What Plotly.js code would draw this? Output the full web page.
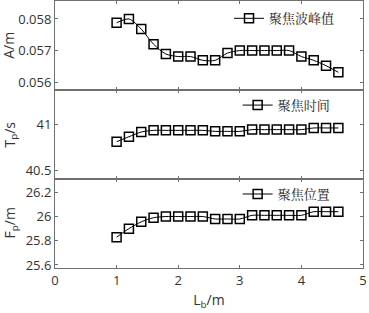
<!DOCTYPE html>
<html>
<head>
<meta charset="utf-8">
<script src="https://cdn.plot.ly/plotly-3.0.1.min.js"></script>
<style>html,body{margin:0;padding:0;background:#fff;}#chart{width:369px;height:313px;}</style>
</head>
<body>
<div id="chart"></div>
<script>
const lb = [1.0, 1.2, 1.4, 1.6, 1.8, 2.0, 2.2, 2.4, 2.6, 2.8, 3.0, 3.2, 3.4, 3.6, 3.8, 4.0, 4.2, 4.4, 4.6];
const peakA = [0.05788, 0.0580, 0.05768, 0.0572, 0.05689, 0.05681, 0.05681, 0.05669, 0.05669, 0.05692, 0.0570, 0.0570, 0.0570, 0.0570, 0.0570, 0.05681, 0.05669, 0.05652, 0.05631];
const timeTp = [40.81, 40.865, 40.916, 40.934, 40.934, 40.934, 40.934, 40.934, 40.923, 40.923, 40.923, 40.942, 40.942, 40.942, 40.942, 40.942, 40.96, 40.96, 40.96];
const posFp = [25.83, 25.90, 25.956, 25.99, 26.0, 26.0, 26.0, 26.0, 25.98, 25.98, 25.98, 26.01, 26.01, 26.01, 26.01, 26.01, 26.04, 26.04, 26.04];
const names = ['聚焦波峰值', '聚焦时间', '聚焦位置'];
const yTitles = ['A/m', 'T<sub>p</sub>/s', 'F<sub>p</sub>/m'];
const xTitle = 'L<sub>b</sub>/m';
const xTicks = [0, 1, 2, 3, 4, 5];
const aTicks = [0.056, 0.057, 0.058];
const tTicks = [40.5, 41];
const fTicks = [25.6, 25.8, 26, 26.2];

const axColor = '#707070';
const tickFont = {family: 'Open Sans, sans-serif', size: 13, color: '#333'};
const titleFont = {family: 'Open Sans, sans-serif', size: 14, color: '#333'};
function mk(y, name, xa, ya, lg) {
  return {
    x: lb, y: y, name: name, xaxis: xa, yaxis: ya, legend: lg,
    type: 'scatter', mode: 'lines+markers',
    line: {color: '#000', width: 1, shape: 'spline', smoothing: 0.8},
    marker: {symbol: 'square-open', size: 9, color: '#000', line: {width: 1.5, color: '#000'}},
    showlegend: true
  };
}
const data = [
  mk(peakA, names[0], 'x', 'y', 'legend'),
  mk(timeTp, names[1], 'x2', 'y2', 'legend2'),
  mk(posFp, names[2], 'x3', 'y3', 'legend3')
];
function xax(anchor, labels) {
  return {
    domain: [0, 1], anchor: anchor, range: [0, 5], tickvals: xTicks,
    showticklabels: labels, ticks: 'inside', ticklen: 3, tickcolor: axColor,
    showline: true, linecolor: axColor, linewidth: 1, mirror: 'ticks',
    showgrid: false, zeroline: false, tickfont: tickFont
  };
}
function yax(anchor, dom, rng, tv) {
  return {
    domain: dom, anchor: anchor, range: rng, tickvals: tv,
    ticks: 'inside', ticklen: 3, tickcolor: axColor,
    showline: true, linecolor: axColor, linewidth: 1, mirror: 'ticks',
    showgrid: false, zeroline: false, tickfont: tickFont
  };
}
function ytitle(text, x, y) {
  return {text: text, xref: 'paper', yref: 'paper', x: x, y: y, xanchor: 'center', yanchor: 'middle',
          textangle: -90, showarrow: false, font: titleFont};
}
const lgFont = {family: 'Noto Serif CJK SC, Noto Sans CJK SC, serif', size: 13, color: '#222'};
const layout = {
  width: 369, height: 313,
  margin: {l: 55, r: 6, t: 1, b: 45},
  paper_bgcolor: '#fff', plot_bgcolor: '#fff',
  showlegend: true,
  xaxis: xax('y', false),
  xaxis2: xax('y2', false),
  xaxis3: Object.assign(xax('y3', true), {title: {text: xTitle, font: titleFont, standoff: 7}}),
  yaxis: yax('x', [0.6667, 1], [0.05575, 0.05857], aTicks),
  yaxis2: yax('x2', [0.3333, 0.6667], [40.405, 41.373], tTicks),
  yaxis3: yax('x3', [0, 0.3333], [25.575, 26.31], fTicks),
  annotations: [
    ytitle(yTitles[0], -0.152, 0.833),
    ytitle(yTitles[1], -0.146, 0.50),
    ytitle(yTitles[2], -0.146, 0.167)
  ],
  legend: {x: 0.565, y: 0.935, xanchor: 'left', yanchor: 'middle', bgcolor: 'rgba(0,0,0,0)', borderwidth: 0, font: lgFont},
  legend2: {x: 0.593, y: 0.61, xanchor: 'left', yanchor: 'middle', bgcolor: 'rgba(0,0,0,0)', borderwidth: 0, font: lgFont},
  legend3: {x: 0.593, y: 0.277, xanchor: 'left', yanchor: 'middle', bgcolor: 'rgba(0,0,0,0)', borderwidth: 0, font: lgFont}
};
Plotly.newPlot('chart', data, layout, {displayModeBar: false, staticPlot: true});
</script>
</body>
</html>
